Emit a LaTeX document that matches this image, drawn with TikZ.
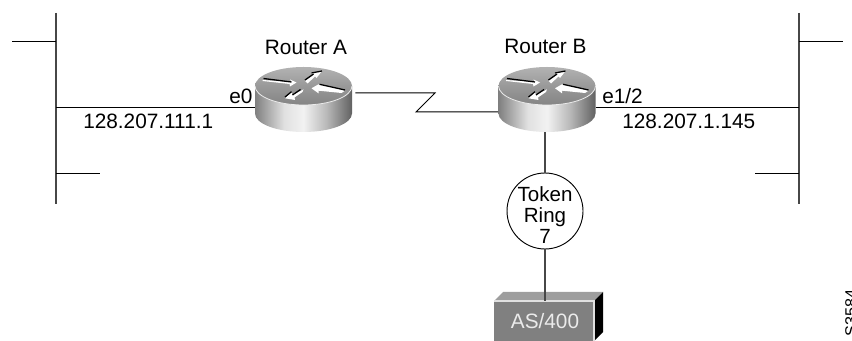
\documentclass[tikz,border=0pt]{standalone}
\usepackage{fontspec}
\setmainfont{Liberation Sans}
\pgfdeclarehorizontalshading{rbody}{100bp}{color(0bp)=(black!55);color(25bp)=(black!50);color(40bp)=(black!12);color(50bp)=(black!5);color(62bp)=(black!28);color(75bp)=(black!62);color(100bp)=(black!62)}
\pgfdeclareverticalshading{rtop}{100bp}{color(0bp)=(black!48);color(25bp)=(black!48);color(50bp)=(black!40);color(75bp)=(black!30);color(100bp)=(black!30)}
\tikzset{
  wire/.style={draw=black,line width=0.75pt},
  softwire/.style={draw=black!72,line width=0.8pt},
  lbl/.style={inner sep=0pt,font=\fontsize{15.6pt}{18pt}\selectfont},
  routerbox/.style={minimum width=72.75pt,minimum height=48.75pt,inner sep=0pt},
  ringnode/.style={circle,draw=black,line width=0.7pt,minimum size=57pt,inner sep=0pt},
  ringtext/.style={inner sep=0pt,align=center,font=\fontsize{15.4pt}{16.1pt}\selectfont},
  hostfront/.style={minimum width=75pt,minimum height=30pt,inner sep=0pt,fill=black!50},
  arrowedge/.style={black,line width=0.95pt},
}
\newcommand{\routerpic}[1]{%
  \begin{scope}[shift={(#1)}]
    % local px, origin at centre of top ellipse
    \shade[shading=rbody] (-48.5,0) -- (-48.5,27.5) arc[start angle=180,end angle=0,x radius=48.5,y radius=18.5] -- (48.5,0) -- cycle;
    \shade[shading=rtop] (0,0) ellipse[x radius=48.5,y radius=19];
    \draw[black!8,line width=0.6pt] (-48.5,0) arc[start angle=180,end angle=0,x radius=48.5,y radius=19];
    % arrow pointing right
    \fill[white] (-41,-6) -- (-12,-4) -- (-13.5,-6.5) -- (-7,-3.5) -- (-13.5,0.5) -- (-14,-2) -- (-41,-5) -- cycle;
    \draw[arrowedge] (-40,-7.5) -- (-12,-4);
    % arrow up-right
    \fill[white] (1.5,-5) -- (10,-11) -- (8,-13) -- (18.5,-15) -- (13,-8) -- (11.5,-9.5) -- (4,-2.5) -- cycle;
    \draw[arrowedge] (1.5,-6) -- (10,-12);
    \draw[arrowedge] (8,-13) -- (18.5,-15);
    % arrow left
    \fill[white] (41.5,4.7) -- (16,-1.7) -- (15,-1.7) -- (8,2.3) -- (15,7.3) -- (15,4.7) -- (38,7) -- cycle;
    \draw[arrowedge] (16,-1.7) -- (41.5,4);
    % arrow down-left
    \fill[white] (0,3.3) -- (-3,5) -- (-11,9) -- (-12,5.7) -- (-18.5,12.3) -- (-8.5,14) -- (-9,11.5) -- (-1,6) -- cycle;
    \draw[arrowedge] (-3,3.5) -- (-11,9);
    \draw[arrowedge] (-18.5,11) -- (-12,5.7);
  \end{scope}}
\begin{document}
\begin{tikzpicture}[x=0.75pt,y=-0.75pt]
\useasboundingbox (0,0) rectangle (852,341);
% routers
\routerpic{303.5,86}
\routerpic{547,86}
\node[routerbox] (ra) at (303.5,99.5) {};
\node[routerbox] (rb) at (547,99.5) {};
\node[lbl,anchor=base] (ralabel) at (306,55) {Router A};
\node[lbl,anchor=base] (rblabel) at (545.5,54) {Router B};
% LAN bars
\coordinate (la) at (56,13); \coordinate (lb) at (56,204);
\coordinate (ra1) at (799,13); \coordinate (rb1) at (799,204);
\draw[softwire] (la) -- (lb);
\draw[softwire] (ra1) -- (rb1);
\coordinate (ls1a) at (12,42); \coordinate (ls1b) at (56,42);
\coordinate (ls2a) at (56,174); \coordinate (ls2b) at (100,174);
\coordinate (rs1a) at (799,42); \coordinate (rs1b) at (843,42);
\coordinate (rs2a) at (755,174); \coordinate (rs2b) at (799,174);
\draw[wire] (ls1a) -- (ls1b);
\draw[wire] (ls2a) -- (ls2b);
\draw[wire] (rs1a) -- (rs1b);
\draw[wire] (rs2a) -- (rs2b);
% connections to LANs
\coordinate (lt) at (56,108); \coordinate (rt) at (799,108);
\draw[wire] (lt) -- (ra.west |- lt);
\draw[wire] (rb.east |- rt) -- (rt);
% serial link
\coordinate (z1) at (435,93); \coordinate (z2) at (416,112);
\draw[wire] ([xshift=2.25pt]ra.east |- z1) -- (z1) -- (z2) -- (rb.west |- z2);
% ring and host
\node[ringnode] (ring) at (545,211) {};
\node[ringtext,anchor=base] (ringlabel) at (545,244) {Token\\Ring\\7};
\draw[softwire] (ring.north |- rb.south) -- (ring.north);
\fill[black!38] (494,301) -- (503,292) -- (603,292) -- (594,301) -- cycle;
\fill[black] (594,301) -- (603,292) -- (603,332) -- (594,341) -- cycle;
\node[hostfront,anchor=north west] (host) at (494,301) {};
\node[lbl,anchor=base,text=black!8] (hostlabel) at (545,329) {AS/400};
\draw[black!12,line width=0.8pt] (494,301) -- (594,301) -- (594,341);
\draw[softwire] (ring.south) -- (ring.south |- host.north);
% labels
\node[lbl,anchor=base west] (e0) at (229,104) {e0};
\node[lbl,anchor=base west] (addrl) at (83,129) {128.207.111.1};
\node[lbl,anchor=base west] (e12) at (602,104) {e1/2};
\node[lbl,anchor=base west] (addrr) at (622,129) {128.207.1.145};
\node[anchor=base west,inner sep=0pt,rotate=90,font=\fontsize{12.2pt}{14pt}\selectfont] (tag) at (856.5,337) {S3584};
\end{tikzpicture}
\end{document}
